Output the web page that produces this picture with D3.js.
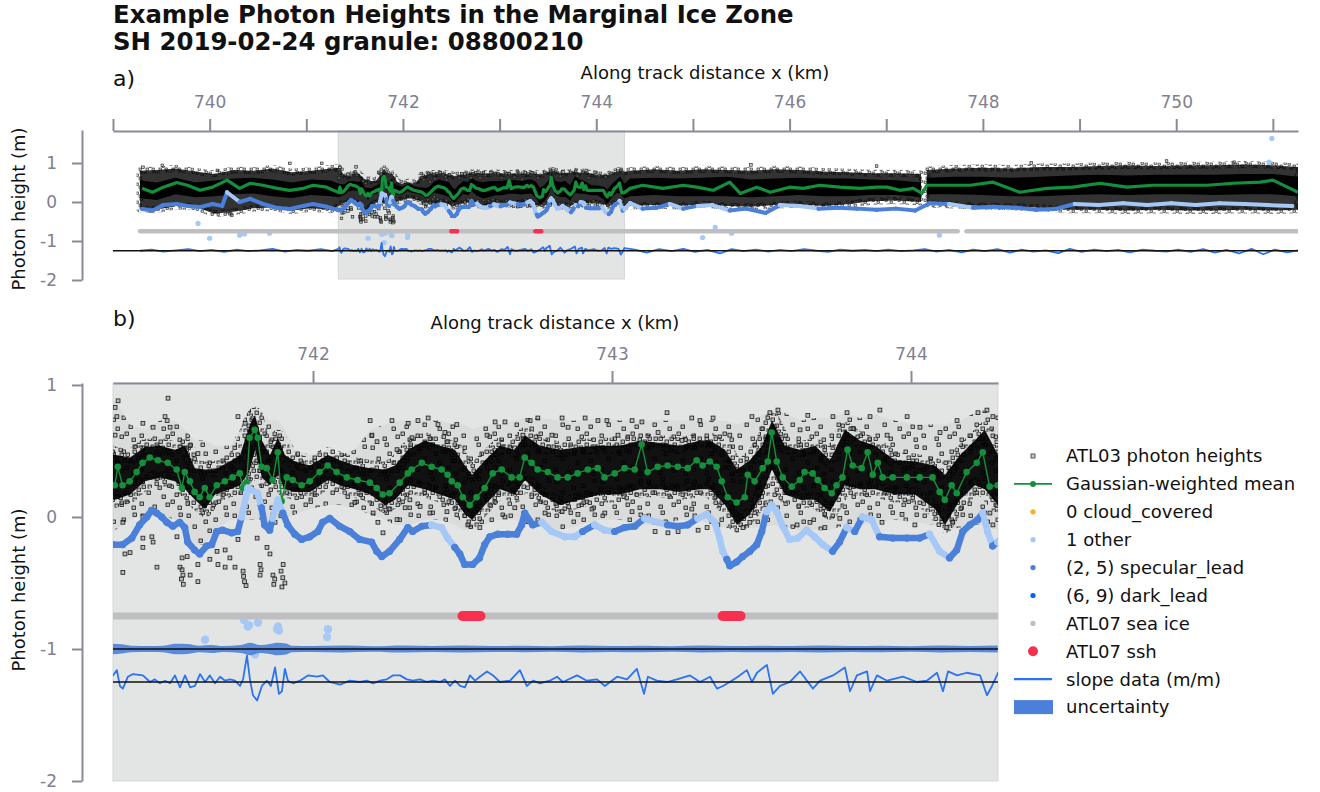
<!DOCTYPE html>
<html>
<head>
<meta charset="utf-8">
<script src="https://cdn.jsdelivr.net/npm/d3@7"></script>
<style>
body { margin: 0; background: #fff; }
svg text { font-family: 'DejaVu Sans', sans-serif; }
</style>
</head>
<body>
<script>
// Gaussian-weighted mean [km, m]
const meanPts = [
[739.30,0.35],[739.41,0.25],[739.52,0.38],[739.66,0.50],[739.77,0.43],[739.90,0.30],[740.03,0.38],[740.18,0.56],[740.31,0.35],[740.42,0.48],[740.55,0.43],[740.70,0.35],[740.83,0.30],[740.97,0.35],[741.07,0.43],[741.21,0.38],
[741.337,0.24],[741.347,0.38],[741.363,0.24],[741.387,0.27],[741.410,0.34],[741.430,0.41],[741.454,0.45],[741.481,0.43],[741.514,0.41],[741.544,0.36],[741.561,0.22],[741.571,0.34],[741.588,0.27],[741.604,0.19],[741.621,0.15],[741.638,0.22],[741.654,0.15],[741.678,0.24],[741.705,0.27],[741.731,0.30],[741.755,0.33],[741.765,0.22],[741.778,0.26],[741.788,0.60],[741.805,0.66],[741.815,0.60],[741.828,0.38],[741.845,0.37],[741.865,0.28],[741.882,0.49],[741.895,0.12],[741.912,0.30],[741.932,0.28],[741.962,0.24],[741.989,0.27],
[742.022,0.34],[742.049,0.39],[742.079,0.34],[742.113,0.30],[742.149,0.28],[742.190,0.26],[742.213,0.22],[742.233,0.17],[742.256,0.18],[742.290,0.26],[742.317,0.33],[742.330,0.36],[742.364,0.41],[742.397,0.38],[742.430,0.36],[742.450,0.32],[742.464,0.27],[742.484,0.24],[742.501,0.15],[742.524,0.09],[742.547,0.15],[742.574,0.22],[742.601,0.33],[742.631,0.36],[742.664,0.30],[742.691,0.30],[742.708,0.45],[742.731,0.41],[742.751,0.36],[742.785,0.34],[742.818,0.30],[742.852,0.30],[742.885,0.33],[742.919,0.36],[742.952,0.37],[742.975,0.30],
[743.009,0.33],[743.042,0.37],[743.076,0.36],[743.099,0.55],[743.119,0.34],[743.153,0.38],[743.186,0.39],[743.220,0.38],[743.253,0.37],[743.283,0.43],[743.303,0.39],[743.327,0.42],[743.350,0.38],[743.367,0.27],[743.387,0.15],[743.417,0.11],[743.444,0.15],[743.454,0.32],[743.477,0.27],[743.504,0.37],[743.521,0.42],[743.534,0.64],[743.551,0.42],[743.571,0.30],[743.601,0.23],[743.628,0.28],[743.644,0.34],[743.671,0.33],[743.688,0.28],[743.711,0.22],[743.735,0.18],[743.751,0.24],[743.771,0.30],[743.788,0.51],[743.805,0.39],[743.835,0.37],[743.855,0.49],[743.872,0.32],[743.889,0.41],[743.905,0.30],[743.939,0.30],[743.986,0.30],
[744.029,0.30],[744.072,0.30],[744.096,0.19],[744.113,0.13],[744.136,0.24],[744.153,0.18],[744.186,0.34],[744.220,0.41],[744.240,0.49],[744.263,0.23],[744.290,0.24],
[744.35,0.35],[744.48,0.43],[744.69,0.35],[744.90,0.43],[745.04,0.38],[745.21,0.30],[745.38,0.51],[745.49,0.22],[745.66,0.38],[745.80,0.25],[746.00,0.38],[746.14,0.35],[746.31,0.43],[746.52,0.38],[746.73,0.35],[746.90,0.38],[747.01,0.38],[747.14,0.30],[747.28,0.35],[747.37,0.22],
[747.42,0.43],[747.63,0.43],[747.87,0.43],[748.10,0.51],[748.38,0.25],[748.66,0.35],[748.93,0.38],[749.21,0.48],[749.49,0.38],[749.76,0.43],[750.04,0.43],[750.32,0.43],[750.59,0.48],[750.87,0.51],[751.00,0.56],[751.15,0.38],[751.26,0.25]
];

// lead heights [km, m, class] (1 = other, 2 = specular_lead)
const leadPts = [
[739.30,-0.18,2],[739.41,-0.22,2],[739.52,-0.08,2],[739.66,-0.05,2],[739.77,-0.10,2],[739.90,-0.13,2],[740.03,-0.05,2],[740.13,-0.10,2],[740.18,0.25,1],[740.31,0.00,2],[740.42,0.08,2],[740.55,-0.05,2],[740.70,-0.15,2],[740.83,-0.18,2],[740.97,-0.10,2],[741.07,-0.05,2],[741.21,-0.12,2],
[741.330,-0.21,2],[741.363,-0.21,2],[741.394,-0.16,2],[741.420,-0.06,2],[741.444,0.00,2],[741.460,0.05,2],[741.477,0.03,2],[741.494,0.00,2],[741.511,-0.04,2],[741.531,-0.07,2],[741.554,-0.04,2],[741.571,-0.08,2],[741.581,-0.19,2],[741.604,-0.25,2],[741.621,-0.28,2],[741.644,-0.22,2],[741.661,-0.21,2],[741.678,-0.11,2],[741.698,-0.10,2],[741.728,-0.12,2],[741.748,-0.11,2],[741.761,0.00,1],[741.782,0.22,1],[741.815,0.18,1],[741.828,0.07,2],[741.838,-0.06,2],[741.855,-0.10,2],[741.865,-0.01,1],[741.882,0.13,1],[741.899,0.03,2],[741.915,-0.06,2],[741.939,-0.13,2],[741.962,-0.17,2],[741.989,-0.15,2],
[742.016,-0.11,2],[742.032,-0.04,2],[742.056,-0.01,2],[742.089,-0.07,2],[742.123,-0.11,2],[742.156,-0.17,2],[742.196,-0.19,2],[742.213,-0.26,2],[742.230,-0.30,2],[742.256,-0.26,2],[742.290,-0.17,2],[742.317,-0.08,2],[742.333,-0.11,2],[742.364,-0.07,2],[742.397,-0.06,1],[742.430,-0.08,1],[742.450,-0.16,1],[742.474,-0.23,2],[742.491,-0.28,2],[742.507,-0.36,2],[742.534,-0.36,2],[742.557,-0.31,2],[742.574,-0.21,2],[742.591,-0.15,2],[742.618,-0.13,2],[742.651,-0.13,2],[742.681,-0.13,2],[742.698,-0.06,2],[742.708,0.03,2],[742.735,-0.06,2],[742.765,-0.04,1],[742.798,-0.11,1],[742.842,-0.15,1],[742.875,-0.15,1],[742.902,-0.11,2],[742.942,-0.06,1],[742.975,-0.10,1],
[743.009,-0.11,2],[743.042,-0.08,2],[743.076,-0.07,2],[743.109,-0.01,1],[743.153,-0.04,1],[743.186,-0.06,2],[743.220,-0.07,2],[743.253,-0.06,2],[743.287,-0.01,1],[743.317,0.02,1],[743.343,-0.04,1],[743.360,-0.16,1],[743.370,-0.26,1],[743.384,-0.32,2],[743.394,-0.37,2],[743.417,-0.34,2],[743.437,-0.30,2],[743.461,-0.26,2],[743.484,-0.21,2],[743.501,-0.11,2],[743.517,0.04,1],[743.534,0.09,1],[743.551,0.04,1],[743.571,-0.07,1],[743.594,-0.17,1],[743.621,-0.16,1],[743.651,-0.10,1],[743.678,-0.15,1],[743.705,-0.21,1],[743.738,-0.26,2],[743.761,-0.19,2],[743.785,-0.08,1],[743.812,-0.11,2],[743.838,0.00,1],[743.868,-0.02,1],[743.895,-0.15,2],[743.939,-0.16,2],[743.986,-0.16,2],
[744.029,-0.16,2],[744.062,-0.13,1],[744.096,-0.26,1],[744.129,-0.31,2],[744.153,-0.25,2],[744.173,-0.11,2],[744.197,-0.06,2],[744.223,-0.02,2],[744.240,0.03,1],[744.256,-0.11,1],[744.273,-0.22,2],[744.290,-0.19,1],
[744.35,-0.03,1],[744.48,-0.17,2],[744.62,-0.15,2],[744.76,-0.05,1],[744.90,-0.17,2],[745.05,-0.10,1],[745.20,-0.08,1],[745.38,-0.22,2],[745.55,-0.17,2],[745.75,-0.28,2],[745.90,-0.08,1],[746.10,-0.10,1],[746.30,-0.17,2],[746.50,-0.15,2],[746.70,-0.17,2],[746.90,-0.20,2],[747.10,-0.17,2],[747.30,-0.22,2],[747.45,-0.03,2],[747.65,-0.05,1],[747.90,-0.15,2],[748.10,-0.12,2],[748.35,-0.15,2],[748.55,-0.20,2],[748.75,-0.18,2],[748.95,-0.05,1],[749.20,-0.08,1],[749.45,-0.03,1],[749.70,-0.08,1],[749.95,-0.03,1],[750.20,-0.08,1],[750.45,-0.03,1],[750.70,-0.05,1],[750.95,-0.08,1],[751.20,-0.10,1]
];

// ATL03 photon cloud envelopes [km, coreTop, coreBot, hazeTop, hazeBot]
const photBand = [
[739.28,0.55,0.10,0.80,-0.18],[739.45,0.50,0.05,0.82,-0.20],[739.65,0.62,0.20,0.86,-0.10],[739.85,0.50,0.12,0.78,-0.12],[740.05,0.55,0.15,0.72,-0.30],[740.25,0.60,0.20,0.82,-0.25],[740.45,0.62,0.22,0.80,-0.16],[740.65,0.58,0.15,0.86,-0.14],[740.85,0.50,0.10,0.76,-0.22],[741.05,0.58,0.18,0.80,-0.16],[741.25,0.55,0.15,0.86,-0.20],
[741.338,0.47,0.13,0.88,-0.10],[741.388,0.45,0.17,0.70,-0.02],[741.438,0.53,0.27,0.66,0.02],[741.488,0.54,0.30,0.73,0.02],[741.538,0.51,0.27,0.73,-0.02],[741.572,0.54,0.21,0.66,-0.10],[741.605,0.37,0.13,0.58,-0.21],[741.639,0.36,0.06,0.58,-0.21],[741.672,0.36,0.17,0.54,-0.10],[741.722,0.42,0.21,0.54,-0.02],[741.756,0.47,0.24,0.66,-0.02],[741.789,0.70,0.36,0.81,-0.02],[741.806,0.77,0.51,0.85,-0.02],[741.829,0.58,0.30,0.77,-0.02],[741.856,0.47,0.24,0.73,-0.02],[741.883,0.60,0.32,0.73,-0.02],[741.906,0.47,0.21,0.66,-0.02],[741.940,0.42,0.19,0.51,0.02],[741.990,0.39,0.19,0.47,0.06],
[742.050,0.47,0.28,0.51,0.09],[742.090,0.43,0.24,0.47,0.09],[742.140,0.39,0.21,0.51,0.06],[742.191,0.37,0.17,0.66,0.02],[742.241,0.36,0.09,0.70,-0.02],[742.274,0.39,0.13,0.73,-0.06],[742.318,0.51,0.24,0.73,-0.06],[742.374,0.58,0.21,0.73,-0.02],[742.425,0.54,0.17,0.73,-0.02],[742.475,0.51,0.13,0.70,-0.06],[742.508,0.39,0.02,0.70,-0.10],[742.532,0.32,-0.02,0.66,-0.10],[742.575,0.43,0.09,0.70,-0.06],[742.625,0.54,0.21,0.70,-0.02],[742.675,0.51,0.17,0.73,-0.02],[742.709,0.62,0.28,0.75,-0.06],[742.759,0.54,0.17,0.75,-0.06],[742.826,0.51,0.09,0.73,-0.10],[742.893,0.53,0.13,0.73,-0.06],[742.960,0.54,0.17,0.75,-0.02],
[743.027,0.54,0.17,0.73,-0.02],[743.094,0.58,0.21,0.73,-0.06],[743.161,0.56,0.21,0.73,-0.06],[743.227,0.54,0.19,0.73,-0.02],[743.294,0.58,0.21,0.73,-0.02],[743.328,0.58,0.21,0.73,-0.06],[743.378,0.51,0.09,0.73,-0.08],[743.418,0.36,-0.06,0.70,-0.10],[743.461,0.43,0.02,0.73,-0.08],[743.502,0.54,0.17,0.77,-0.08],[743.535,0.73,0.36,0.81,-0.06],[743.578,0.54,0.17,0.79,-0.08],[743.629,0.51,0.13,0.73,-0.10],[743.679,0.54,0.13,0.75,-0.10],[743.729,0.43,0.04,0.75,-0.10],[743.779,0.66,0.24,0.79,-0.06],[743.829,0.58,0.21,0.75,-0.06],[743.880,0.54,0.21,0.77,-0.04],[743.946,0.43,0.17,0.73,-0.02],
[744.013,0.42,0.17,0.70,-0.04],[744.080,0.39,0.06,0.70,-0.06],[744.114,0.32,-0.06,0.70,-0.10],[744.164,0.47,0.13,0.73,-0.08],[744.214,0.58,0.24,0.79,-0.06],[744.247,0.66,0.21,0.81,-0.06],[744.291,0.47,0.09,0.77,-0.10],
[744.35,0.60,0.15,0.80,-0.10],[744.60,0.62,0.18,0.84,-0.08],[744.85,0.60,0.15,0.80,-0.10],[745.10,0.62,0.15,0.84,-0.06],[745.35,0.65,0.15,0.82,-0.10],[745.60,0.58,0.12,0.80,-0.12],[745.85,0.60,0.15,0.84,-0.08],[746.10,0.62,0.18,0.82,-0.06],[746.35,0.60,0.15,0.78,-0.10],[746.60,0.60,0.15,0.76,-0.06],[746.85,0.58,0.18,0.74,0.02],[747.10,0.56,0.18,0.74,0.04],[747.36,0.50,0.12,0.72,0.00],
[747.39,null,null,null,null],
[747.42,0.62,0.20,0.82,-0.05],[747.70,0.65,0.20,0.86,-0.08],[748.00,0.65,0.18,0.88,-0.10],[748.30,0.62,0.15,0.86,-0.12],[748.60,0.65,0.15,0.90,-0.15],[748.90,0.68,0.18,0.90,-0.20],[749.20,0.70,0.20,0.92,-0.20],[749.50,0.68,0.18,0.94,-0.22],[749.80,0.70,0.20,0.92,-0.20],[750.10,0.70,0.20,0.94,-0.22],[750.40,0.70,0.18,0.94,-0.22],[750.70,0.72,0.20,0.96,-0.20],[751.00,0.72,0.20,0.94,-0.22],[751.26,0.65,0.15,0.90,-0.20]
];

// scattered ATL03 photons outside the dense band [km, m]
const strayPts = [
[741.348,0.88],[741.338,0.83],[741.344,0.76],[741.338,0.62],[741.515,0.90],[741.505,0.76],[741.512,0.73],[741.522,0.68],[741.431,0.71],[741.465,0.68],[741.589,0.54],[741.615,0.48],[741.749,0.76],[741.773,0.71],[742.191,0.73],[742.264,0.73],[742.318,0.71],[742.197,0.62],[742.214,0.57],[742.281,0.51],
[741.364,-0.04],[741.371,-0.28],[741.388,-0.27],[741.364,-0.42],[741.431,-0.16],[741.431,-0.23],[741.461,-0.15],[741.478,-0.38],[741.465,-0.19],[741.545,-0.15],[741.562,-0.31],[741.555,-0.38],[741.589,-0.44],[741.615,-0.49],[741.579,-0.30],[741.615,-0.36],[741.655,-0.32],[741.679,-0.26],[741.682,-0.36],[741.706,-0.25],[741.706,-0.38],[741.722,-0.31],[741.739,-0.38],[741.749,-0.17],[741.813,-0.16],[741.846,-0.23],[741.856,-0.28],[741.900,-0.36],[741.873,-0.04],[742.140,0.11],[742.201,0.03],[742.217,-0.04],[742.234,-0.12],[742.257,0.06],[742.281,-0.02],[742.308,0.07],[741.431,0.00],
[741.562,-0.40],[741.565,-0.44],[741.560,-0.47],[741.566,-0.51],[741.766,-0.41],[741.768,-0.45],[741.771,-0.49],[741.776,-0.52],[741.823,-0.36],[741.826,-0.40],[741.823,-0.44],[741.866,-0.44],[741.872,-0.47],[741.869,-0.51],[741.893,-0.41],[741.899,-0.46],[741.906,-0.50],[741.896,-0.53],
[742.351,0.73],[742.385,0.75],[742.418,0.70],[742.481,0.70],[742.441,0.64],[742.609,0.72],[742.642,0.72],[742.702,0.62],[742.726,0.73],[742.752,0.75],[742.833,0.75],[742.853,0.68],[742.910,0.75],[742.953,0.73],[742.983,0.73],[743.067,0.73],[743.100,0.72],[743.184,0.79],[743.267,0.75],[743.294,0.73],[742.331,0.60],[742.451,0.57],[742.582,0.62],[742.799,0.62],[743.020,0.62],[743.154,0.64],[743.234,0.58],
[742.324,0.13],[742.358,0.08],[742.391,0.03],[742.448,0.04],[742.518,-0.06],[742.558,-0.08],[742.642,0.00],[742.675,0.07],[742.776,0.03],[742.833,0.04],[742.886,0.02],[742.933,0.06],[742.976,0.03],[743.067,0.04],[743.110,0.00],[743.144,-0.11],[743.187,-0.12],[743.221,-0.11],[743.288,-0.10],[743.267,0.06],
[743.338,0.75],[743.468,0.76],[743.528,0.79],[743.555,0.81],[743.655,0.77],[743.739,0.76],[743.786,0.79],[743.863,0.76],[743.896,0.81],[743.987,0.76],[744.030,0.68],[744.154,0.73],[744.224,0.79],[744.254,0.81],[744.274,0.76],[743.394,0.62],[743.629,0.66],[743.806,0.67],[743.920,0.62],[744.097,0.64],
[743.318,-0.08],[743.354,-0.06],[743.438,-0.08],[743.578,-0.08],[743.619,-0.06],[743.712,-0.08],[743.762,-0.01],[743.903,-0.04],[743.970,0.02],[744.013,-0.06],[744.120,-0.08],[744.140,-0.04],[744.274,-0.06],[744.264,0.03],[743.461,-0.04],[743.662,-0.04],
[739.31,0.89],[739.51,0.94],[740.08,0.81],[740.83,0.99],[741.16,0.99],[740.19,-0.25],[740.21,-0.30],[740.23,-0.34],[745.60,0.95],[746.90,0.92],[748.50,1.00],[749.90,1.05],[750.60,1.02]
];

// "1 other" points away from the lead curve [km, m]
const otherPts = [
[741.769,-0.78],[741.782,-0.83],[741.786,-0.82],[741.816,-0.80],[741.880,-0.85],[741.886,-0.86],[741.883,-0.83],[742.050,-0.85],[742.047,-0.91],[741.639,-0.93],[741.806,-1.04],
[739.88,-0.55],[740.00,-0.93],[740.31,-0.85],[740.36,-0.82],[740.62,-0.80],[745.10,-0.91],[745.23,-0.65],[745.40,-0.80],[747.55,-0.85],[750.99,1.63],[750.96,1.02]
];

// slope data, plotted at -1.25 offset [km, m]
const slopePts = [
[739.28,-1.25],[739.40,-1.22],[739.52,-1.27],[739.65,-1.24],[739.78,-1.21],[739.90,-1.26],[740.02,-1.23],[740.15,-1.28],[740.28,-1.22],[740.40,-1.26],[740.52,-1.24],[740.65,-1.20],[740.78,-1.27],[740.90,-1.23],[741.02,-1.25],[741.15,-1.21],[741.27,-1.26],
[741.331,-1.20],[741.344,-1.16],[741.354,-1.28],[741.364,-1.30],[741.381,-1.21],[741.398,-1.19],[741.431,-1.20],[741.455,-1.25],[741.471,-1.23],[741.488,-1.26],[741.505,-1.24],[741.522,-1.26],[741.538,-1.20],[741.555,-1.29],[741.572,-1.20],[741.589,-1.29],[741.605,-1.28],[741.622,-1.19],[741.639,-1.25],[741.655,-1.20],[741.672,-1.26],[741.689,-1.21],[741.706,-1.24],[741.722,-1.23],[741.739,-1.24],[741.756,-1.28],[741.766,-1.23],[741.779,-1.05],[741.789,-1.23],[741.799,-1.35],[741.813,-1.39],[741.829,-1.28],[741.846,-1.24],[741.859,-1.28],[741.873,-1.14],[741.886,-1.34],[741.896,-1.32],[741.906,-1.15],[741.916,-1.24],[741.933,-1.26],[741.956,-1.24],[741.983,-1.20],
[742.013,-1.21],[742.033,-1.20],[742.056,-1.25],[742.090,-1.27],[742.123,-1.24],[742.157,-1.25],[742.180,-1.24],[742.201,-1.26],[742.224,-1.24],[742.247,-1.23],[742.267,-1.20],[742.291,-1.20],[742.314,-1.23],[742.334,-1.24],[742.358,-1.23],[742.381,-1.25],[742.401,-1.24],[742.425,-1.25],[742.441,-1.23],[742.458,-1.28],[742.475,-1.24],[742.492,-1.28],[742.508,-1.29],[742.525,-1.20],[742.542,-1.24],[742.558,-1.21],[742.582,-1.17],[742.602,-1.20],[742.625,-1.25],[742.659,-1.24],[742.692,-1.16],[742.715,-1.28],[742.736,-1.24],[742.759,-1.26],[742.792,-1.24],[742.816,-1.21],[742.836,-1.25],[742.883,-1.20],[742.916,-1.24],[742.950,-1.23],[742.976,-1.28],
[743.017,-1.21],[743.050,-1.23],[743.083,-1.15],[743.107,-1.34],[743.120,-1.21],[743.150,-1.24],[743.184,-1.25],[743.217,-1.23],[743.261,-1.20],[743.294,-1.25],[743.328,-1.21],[743.351,-1.30],[743.371,-1.28],[743.394,-1.25],[743.421,-1.21],[743.451,-1.16],[743.468,-1.25],[743.485,-1.18],[743.518,-1.12],[743.538,-1.34],[743.562,-1.28],[743.595,-1.25],[743.629,-1.17],[743.672,-1.30],[743.696,-1.24],[743.739,-1.20],[743.779,-1.14],[743.796,-1.32],[743.819,-1.20],[743.853,-1.17],[743.863,-1.32],[743.886,-1.20],[743.920,-1.24],[743.973,-1.21],
[744.020,-1.25],[744.053,-1.24],[744.087,-1.18],[744.107,-1.32],[744.124,-1.17],[744.154,-1.20],[744.187,-1.18],[744.231,-1.20],[744.254,-1.35],[744.271,-1.28],[744.291,-1.18],
[744.40,-1.22],[744.52,-1.30],[744.65,-1.21],[744.78,-1.26],[744.90,-1.20],[745.02,-1.28],[745.15,-1.23],[745.28,-1.32],[745.40,-1.21],[745.52,-1.26],[745.65,-1.22],[745.78,-1.27],[745.90,-1.23],[746.02,-1.26],[746.15,-1.21],[746.28,-1.25],[746.40,-1.28],[746.52,-1.22],[746.65,-1.25],[746.78,-1.23],[746.90,-1.26],[747.02,-1.22],[747.15,-1.26],[747.28,-1.24],[747.40,-1.21],[747.52,-1.27],[747.65,-1.23],[747.78,-1.29],[747.90,-1.22],[748.02,-1.26],[748.15,-1.21],[748.28,-1.30],[748.40,-1.22],[748.52,-1.27],[748.65,-1.24],[748.78,-1.31],[748.90,-1.20],[749.02,-1.28],[749.15,-1.22],[749.28,-1.26],[749.40,-1.23],[749.52,-1.29],[749.65,-1.22],[749.78,-1.25],[749.90,-1.27],[750.02,-1.22],[750.15,-1.28],[750.28,-1.21],[750.40,-1.30],[750.52,-1.23],[750.65,-1.32],[750.78,-1.20],[750.90,-1.34],[751.02,-1.22],[751.15,-1.29],[751.26,-1.24]
];

// slope uncertainty half-width around -1 m [km, m]
const uncPts = [
[741.33,0.040],[741.36,0.035],[741.39,0.025],[741.45,0.022],[741.50,0.025],[741.54,0.040],[741.58,0.038],[741.62,0.025],[741.66,0.030],[741.70,0.022],[741.76,0.030],[741.79,0.048],[741.82,0.030],[741.86,0.040],[741.88,0.048],[741.91,0.042],[741.93,0.025],
[742.00,0.022],[742.10,0.026],[742.20,0.021],[742.30,0.027],[742.40,0.022],[742.50,0.026],[742.60,0.022],[742.70,0.024],[742.80,0.021],[742.90,0.026],[743.00,0.022],[743.10,0.025],[743.20,0.021],[743.30,0.026],[743.40,0.022],[743.50,0.025],[743.60,0.022],[743.70,0.027],[743.80,0.022],[743.90,0.025],[744.00,0.021],[744.10,0.026],[744.20,0.022],[744.29,0.026]
];

const seaIceSegs = [[739.28, 747.74], [747.83, 751.26]];
const seaIceH = -0.75;
const sshSegs = [[742.50, 742.56], [743.37, 743.43]];
const refLinesA = [-1.25];
const refLinesB = [-1, -1.25];

const xTicksA = [739, 740, 741, 742, 743, 744, 745, 746, 747, 748, 749, 750, 751];
const xTicksB = [742, 743, 744];
const yTicks = [1, 0, -1, -2];

const legendLabels = ["ATL03 photon heights", "Gaussian-weighted mean", "0 cloud_covered", "1 other",
  "(2, 5) specular_lead", "(6, 9) dark_lead", "ATL07 sea ice", "ATL07 ssh", "slope data (m/m)", "uncertainty"];

const col = {
  mean: "#14903c", cloud: "#f6ae22", other: "#a6c8f7", spec: "#4a80da", dark: "#0b5ef4",
  ice: "#bfbfc1", ssh: "#f8304f", slope: "#2a73f1", unc: "#4a80da", bg: "#e3e4e4",
  axis: "#8a8a99", tick: "#80808f"
};
const leadCol = {1: col.other, 2: col.spec};

const svg = d3.select("body").append("svg").attr("width", 1320).attr("height", 792);
const defs = svg.append("defs");

const xA = d3.scaleLinear().domain([739, 751.26]).range([113, 1298]);
const yA = d3.scaleLinear().domain([-2, 1.846]).range([280, 130]);
const xB = d3.scaleLinear().domain([741.331, 744.291]).range([113, 998]);
const yB = d3.scaleLinear().domain([-2, 1.015]).range([781, 383]);

defs.append("clipPath").attr("id", "clipA").append("rect")
  .attr("x", 113).attr("y", 131).attr("width", 1185).attr("height", 150);
defs.append("clipPath").attr("id", "clipB").append("rect")
  .attr("x", 113).attr("y", 383).attr("width", 885).attr("height", 398);

// texture tiles for the photon scatter
function texture(id, w, h, s, spots) {
  const p = defs.append("pattern").attr("id", id).attr("patternUnits", "userSpaceOnUse")
    .attr("width", w).attr("height", h);
  spots.forEach(q => {
    p.append("rect").attr("x", q[0]).attr("y", q[1]).attr("width", s).attr("height", s)
      .attr("fill", "rgba(140,140,140,0.45)").attr("stroke", "#1a1a1a").attr("stroke-width", s > 3 ? 0.8 : 0.6);
  });
}
texture("hazeTex", 46, 34, 3.4, [[3,4],[17,1],[30,8],[41,3],[9,15],[24,19],[37,17],[2,26],[15,29],[28,27],[40,30],[20,10],[33,24]]);
texture("fringeTex", 22, 16, 3.4, [[1,2],[9,0],[16,5],[5,8],[13,11],[19,13],[2,13],[10,5],[7,14]]);
texture("fringeA", 13, 9, 2.3, [[1,1],[6,3],[10,0],[3,6],[9,6]]);

// Title
svg.append("text").attr("x", 113).attr("y", 23).attr("font-size", 24.4).attr("font-weight", "bold")
  .attr("fill", "#111").text("Example Photon Heights in the Marginal Ice Zone");
svg.append("text").attr("x", 113).attr("y", 50).attr("font-size", 24.4).attr("font-weight", "bold")
  .attr("fill", "#111").text("SH 2019-02-24 granule: 08800210");

// panel backgrounds
svg.append("rect").attr("x", xA(741.331)).attr("y", 131).attr("width", xA(744.291) - xA(741.331)).attr("height", 148)
  .attr("fill", col.bg).attr("stroke", "#d4d5d5").attr("stroke-width", 1);
svg.append("rect").attr("x", 113).attr("y", 383).attr("width", 885).attr("height", 398)
  .attr("fill", col.bg).attr("stroke", "#d6d7d7").attr("stroke-width", 1);

function drawPanel(clip, x, y, o) {
  const g = svg.append("g").attr("clip-path", `url(#${clip})`);

  const haze = d3.area().defined(d => d[1] != null)
    .x(d => x(d[0])).y0(d => y(d[4])).y1(d => y(d[3]));
  const core = d3.area().defined(d => d[1] != null)
    .x(d => x(d[0])).y0(d => y(d[2])).y1(d => y(d[1]));
  if (o.edgeTex) {
    g.append("path").datum(photBand).attr("d", haze).attr("fill", "none")
      .attr("stroke", `url(#${o.edgeTex})`).attr("stroke-width", 7).attr("stroke-linejoin", "round");
  }
  g.append("path").datum(photBand).attr("d", haze).attr("fill", "#000").attr("fill-opacity", o.hazeOp);
  if (o.texture) {
    g.append("path").datum(photBand).attr("d", haze).attr("fill", "url(#hazeTex)");
    g.append("path").datum(photBand).attr("d", core).attr("fill", "none")
      .attr("stroke", "url(#fringeTex)").attr("stroke-width", 16).attr("stroke-linejoin", "round");
  }
  g.append("path").datum(photBand).attr("d", core).attr("fill", "#000").attr("fill-opacity", o.coreOp);

  g.append("g").selectAll("rect").data(strayPts).join("rect")
    .attr("x", d => x(d[0]) - o.sq / 2).attr("y", d => y(d[1]) - o.sq / 2)
    .attr("width", o.sq).attr("height", o.sq)
    .attr("fill", "rgba(140,140,140,0.45)").attr("stroke", "#1a1a1a").attr("stroke-width", o.sqStroke);

  // mean
  g.append("path").datum(meanPts)
    .attr("d", d3.line().x(d => x(d[0])).y(d => y(d[1])))
    .attr("fill", "none").attr("stroke", col.mean).attr("stroke-width", o.meanW).attr("stroke-linejoin", "round");
  if (o.meanR > 0) {
    g.append("g").selectAll("circle").data(meanPts).join("circle")
      .attr("cx", d => x(d[0])).attr("cy", d => y(d[1])).attr("r", o.meanR).attr("fill", col.mean);
  }

  // leads
  const segs = d3.pairs(leadPts);
  g.append("g").selectAll("line").data(segs).join("line")
    .attr("x1", d => x(d[0][0])).attr("y1", d => y(d[0][1]))
    .attr("x2", d => x(d[1][0])).attr("y2", d => y(d[1][1]))
    .attr("stroke", d => leadCol[d[0][2]]).attr("stroke-width", o.leadW).attr("stroke-linecap", "round");
  g.append("g").selectAll("circle").data(leadPts).join("circle")
    .attr("cx", d => x(d[0])).attr("cy", d => y(d[1])).attr("r", o.leadR).attr("fill", d => leadCol[d[2]]);

  g.append("g").selectAll("circle").data(otherPts).join("circle")
    .attr("cx", d => x(d[0])).attr("cy", d => y(d[1])).attr("r", o.otherR).attr("fill", col.other);

  // ATL07
  g.append("g").selectAll("line").data(seaIceSegs).join("line")
    .attr("x1", d => x(d[0])).attr("x2", d => x(d[1])).attr("y1", y(seaIceH)).attr("y2", y(seaIceH))
    .attr("stroke", col.ice).attr("stroke-width", o.iceW).attr("stroke-linecap", "round");
  g.append("g").selectAll("line").data(sshSegs).join("line")
    .attr("x1", d => x(d[0])).attr("x2", d => x(d[1])).attr("y1", y(seaIceH)).attr("y2", y(seaIceH))
    .attr("stroke", col.ssh).attr("stroke-width", o.sshW).attr("stroke-linecap", "round");

  // slope + uncertainty
  if (o.unc) {
    g.append("path").datum(uncPts)
      .attr("d", d3.area().x(d => x(d[0])).y0(d => y(-1 - d[1])).y1(d => y(-1 + d[1])).curve(d3.curveMonotoneX))
      .attr("fill", col.unc).attr("fill-opacity", 0.9);
  }
  g.append("path").datum(slopePts)
    .attr("d", d3.line().x(d => x(d[0])).y(d => y(d[1])))
    .attr("fill", "none").attr("stroke", col.slope).attr("stroke-width", o.slopeW).attr("stroke-linejoin", "round");
  g.append("g").selectAll("line").data(o.refs).join("line")
    .attr("x1", x.range()[0]).attr("x2", x.range()[1]).attr("y1", d => y(d)).attr("y2", d => y(d))
    .attr("stroke", "#111").attr("stroke-width", 1.6);
}

drawPanel("clipA", xA, yA, {hazeOp: 0.8, coreOp: 1, texture: false, edgeTex: "fringeA", sq: 2.6, sqStroke: 0.6, meanW: 3.2, meanR: 0,
  leadW: 4, leadR: 2, otherR: 2.6, iceW: 4.5, sshW: 4.5, slopeW: 1.8, refs: refLinesA, unc: false});
drawPanel("clipB", xB, yB, {hazeOp: 0.04, coreOp: 0.92, texture: true, edgeTex: null, sq: 3.8, sqStroke: 0.8, meanW: 1.4, meanR: 3.3,
  leadW: 6.5, leadR: 3.6, otherR: 4.2, iceW: 7, sshW: 10, slopeW: 1.8, refs: refLinesB, unc: true});

// axes
function styleAxis(g) {
  g.select(".domain").attr("stroke", col.axis).attr("stroke-width", 2);
  g.selectAll(".tick line").attr("stroke", col.axis).attr("stroke-width", 2);
  g.selectAll(".tick text").attr("fill", col.tick).attr("font-size", 17)
    .attr("font-family", "'DejaVu Sans', sans-serif");
}
const yFmt = d => String(d);

svg.append("g").attr("transform", "translate(0,131)")
  .call(d3.axisTop(xA).tickValues(xTicksA).tickSize(12).tickSizeOuter(0).tickPadding(11)
    .tickFormat(d => d % 2 === 0 ? String(d) : ""))
  .call(styleAxis);
svg.append("g").attr("transform", "translate(82,0)")
  .call(d3.axisLeft(yA).tickValues(yTicks).tickSize(10).tickSizeOuter(0).tickPadding(15).tickFormat(yFmt))
  .call(styleAxis);

svg.append("g").attr("transform", "translate(0,383)")
  .call(d3.axisTop(xB).tickValues(xTicksB).tickSize(12).tickSizeOuter(0).tickPadding(11).tickFormat(d => String(d)))
  .call(styleAxis);
svg.append("g").attr("transform", "translate(82,0)")
  .call(d3.axisLeft(yB).tickValues(yTicks).tickSize(10).tickSizeOuter(0).tickPadding(15).tickFormat(yFmt))
  .call(styleAxis);

// labels
svg.append("text").attr("x", 113).attr("y", 86).attr("font-size", 22).attr("fill", "#111").text("a)");
svg.append("text").attr("x", 113).attr("y", 326).attr("font-size", 22).attr("fill", "#111").text("b)");
svg.append("text").attr("x", 705).attr("y", 79).attr("font-size", 18).attr("text-anchor", "middle")
  .attr("fill", "#111").text("Along track distance x (km)");
svg.append("text").attr("x", 555).attr("y", 329).attr("font-size", 18).attr("text-anchor", "middle")
  .attr("fill", "#111").text("Along track distance x (km)");
[209, 590].forEach(cy => {
  svg.append("text").attr("transform", `translate(25,${cy}) rotate(-90)`).attr("font-size", 18)
    .attr("text-anchor", "middle").attr("fill", "#111").text("Photon height (m)");
});

// legend
const lg = svg.append("g");
const lx = 1033, ly0 = 456, ldy = 27.9;
legendLabels.forEach((t, i) => {
  const cy = ly0 + i * ldy;
  lg.append("text").attr("x", 1066).attr("y", cy).attr("dy", "0.35em").attr("font-size", 18)
    .attr("fill", "#111").text(t);
  if (i === 0) {
    lg.append("rect").attr("x", lx - 2).attr("y", cy - 2).attr("width", 4).attr("height", 4)
      .attr("fill", "rgba(140,140,140,0.45)").attr("stroke", "#333").attr("stroke-width", 0.8);
  } else if (i === 1) {
    lg.append("line").attr("x1", 1014).attr("x2", 1052).attr("y1", cy).attr("y2", cy)
      .attr("stroke", col.mean).attr("stroke-width", 1.6);
    lg.append("circle").attr("cx", lx).attr("cy", cy).attr("r", 3).attr("fill", col.mean);
  } else if (i === 8) {
    lg.append("line").attr("x1", 1014).attr("x2", 1052).attr("y1", cy).attr("y2", cy)
      .attr("stroke", col.slope).attr("stroke-width", 2.2);
  } else if (i === 9) {
    lg.append("rect").attr("x", 1014).attr("y", cy - 7).attr("width", 39).attr("height", 14).attr("fill", col.unc);
  } else {
    const c = [null, null, col.cloud, col.other, col.spec, col.dark, col.ice, col.ssh][i];
    lg.append("circle").attr("cx", lx).attr("cy", cy).attr("r", i === 7 ? 5 : 2.6).attr("fill", c);
  }
});
</script>
</body>
</html>
